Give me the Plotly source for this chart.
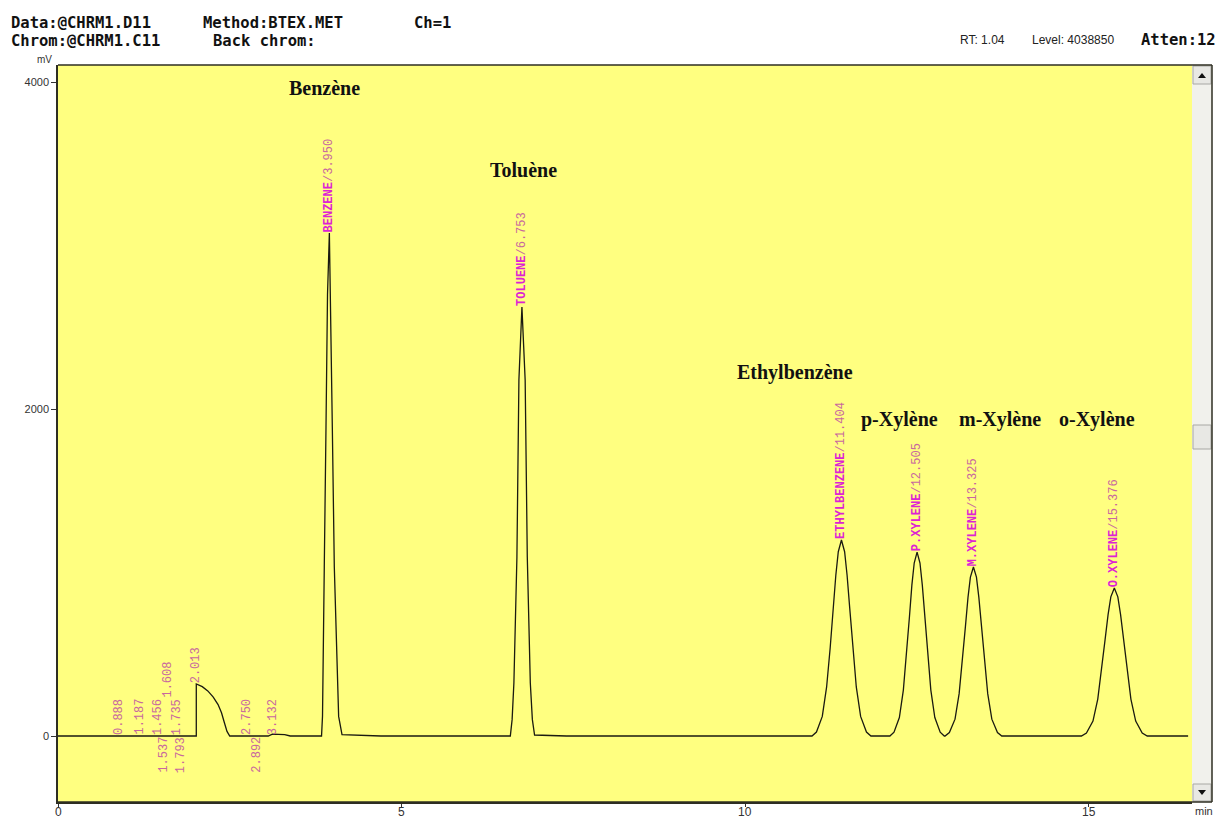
import plotly.graph_objects as go

# ---------------- data ----------------
solvent_t = [0.0, 2.013, 2.013, 2.10, 2.18, 2.26, 2.33, 2.38, 2.42, 2.46, 2.50]
solvent_mv = [0, 0, 318, 302, 276, 238, 192, 142, 84, 28, 0]
bump_t = [3.06, 3.12, 3.30, 3.38]
bump_mv = [0, 12, 9, 0]
benzene_t = [3.836, 3.850, 3.862, 3.876, 3.901, 3.923, 3.950, 3.967, 3.993, 4.022, 4.057, 4.085, 4.134, 4.40, 4.70]
benzene_mv = [0, 120, 422, 1034, 1890, 2700, 3076, 2700, 1890, 1034, 422, 120, 8, 6, 0]
toluene_t = [6.584, 6.610, 6.636, 6.680, 6.709, 6.753, 6.800, 6.831, 6.875, 6.905, 6.937, 7.20, 7.40]
toluene_mv = [0, 100, 324, 1095, 2177, 2624, 2177, 1095, 324, 100, 6, 4, 0]
ethylbenzene_t = [10.975, 11.040, 11.125, 11.188, 11.240, 11.283, 11.322, 11.358, 11.404,
                  11.450, 11.486, 11.525, 11.568, 11.620, 11.683, 11.768, 11.833]
ethylbenzene_mv = [0, 24, 120, 300, 540, 779, 983, 1127, 1199, 1127, 983, 779, 540, 300, 120, 24, 0]
p_xylene_t = [12.109, 12.169, 12.247, 12.305, 12.353, 12.394, 12.429, 12.463, 12.505,
              12.547, 12.581, 12.616, 12.657, 12.705, 12.763, 12.841, 12.901]
p_xylene_mv = [0, 23, 113, 281, 506, 731, 923, 1058, 1125, 1058, 923, 731, 506, 281, 113, 23, 0]
m_xylene_t = [12.912, 12.975, 13.057, 13.117, 13.167, 13.209, 13.246, 13.281, 13.325,
              13.369, 13.404, 13.441, 13.483, 13.533, 13.593, 13.675, 13.738]
m_xylene_mv = [0, 21, 103, 259, 465, 672, 848, 972, 1034, 972, 848, 672, 465, 259, 103, 21, 0]
o_xylene_t = [14.897, 14.970, 15.065, 15.135, 15.193, 15.241, 15.285, 15.325, 15.376,
              15.427, 15.467, 15.511, 15.559, 15.617, 15.687, 15.782, 15.855]
o_xylene_mv = [0, 18, 91, 226, 407, 588, 742, 851, 905, 851, 742, 588, 407, 226, 91, 18, 0]
end_t = [16.45]
end_mv = [0]

peak_names = ["BENZENE", "TOLUENE", "ETHYLBENZENE", "P.XYLENE", "M.XYLENE", "O.XYLENE"]
peak_rt = [3.950, 6.753, 11.404, 12.505, 13.325, 15.376]
peak_height = [3076, 2624, 1199, 1125, 1034, 905]

compound_labels = ["Benzène", "Toluène", "Ethylbenzène", "p-Xylène", "m-Xylène", "o-Xylène"]
compound_label_t = [3.872, 6.769, 10.728, 12.242, 13.712, 15.124]
compound_label_mv = [3963, 3462, 2226, 1933, 1933, 1933]

minor_rt_above = [0.888, 1.187, 1.456, 1.735, 2.750, 3.132]
minor_rt_below = [1.537, 1.793, 2.892]
minor_rt_raised = [1.608, 2.013]
minor_raised_mv = [232, 318]

x_ticks = [0, 5, 10, 15]
y_ticks = [0, 2000, 4000]

# ---------------- geometry ----------------
L, R, T, B = 58, 1192, 65, 802


def px(x):
    return (x - L) / (R - L)


def py(y):
    return (B - y) / (B - T)


time_all = (solvent_t + bump_t + benzene_t + toluene_t + ethylbenzene_t
            + p_xylene_t + m_xylene_t + o_xylene_t + end_t)
mv_all = (solvent_mv + bump_mv + benzene_mv + toluene_mv + ethylbenzene_mv
          + p_xylene_mv + m_xylene_mv + o_xylene_mv + end_mv)

fig = go.Figure()
fig.add_trace(go.Scatter(x=time_all, y=mv_all, mode="lines",
                         line=dict(color="#1a1a10", width=1.3),
                         hoverinfo="skip", showlegend=False))

ann = []
mono = "Liberation Mono"
name_col = "#dd22d4"
num_col = "#c8689e"

for n, rt, h in zip(peak_names, peak_rt, peak_height):
    ann.append(dict(x=rt, y=h, xref="x", yref="y", showarrow=False,
                    text=f"<b>{n}</b><span style='color:{num_col}'>/{rt:.3f}</span>",
                    textangle=-90, xanchor="center", yanchor="bottom",
                    font=dict(family=mono, size=12, color=name_col), borderpad=0))

for rt in minor_rt_above:
    ann.append(dict(x=rt, y=0, xref="x", yref="y", showarrow=False, text=f"{rt:.3f}",
                    textangle=-90, xanchor="center", yanchor="bottom",
                    font=dict(family=mono, size=12, color=num_col), borderpad=0))
for rt in minor_rt_below:
    ann.append(dict(x=rt, y=0, xref="x", yref="y", showarrow=False, text=f"{rt:.3f}",
                    textangle=-90, xanchor="center", yanchor="top",
                    font=dict(family=mono, size=12, color=num_col), borderpad=0))
for rt, h in zip(minor_rt_raised, minor_raised_mv):
    ann.append(dict(x=rt, y=h, xref="x", yref="y", showarrow=False, text=f"{rt:.3f}",
                    textangle=-90, xanchor="center", yanchor="bottom",
                    font=dict(family=mono, size=12, color=num_col), borderpad=0))

for lab, t, v in zip(compound_labels, compound_label_t, compound_label_mv):
    ann.append(dict(x=t, y=v, xref="x", yref="y", showarrow=False, text=f"<b>{lab}</b>",
                    xanchor="center", yanchor="middle",
                    font=dict(family="Liberation Serif", size=20, color="#111")))

# x tick labels (placed just below the axis, partly cut by the page edge as in the source)
for v in x_ticks:
    ann.append(dict(x=v, y=py(812), xref="x", yref="paper", showarrow=False, text=str(v),
                    xanchor="center", yanchor="middle",
                    font=dict(family="Liberation Sans", size=12, color="#333")))

hdr_font = dict(family="DejaVu Sans Mono", size=15.5, color="#111")
header = [("<b>Data:@CHRM1.D11</b>", 9, 23), ("<b>Method:BTEX.MET</b>", 201, 23),
          ("<b>Ch=1</b>", 412, 23), ("<b>Chrom:@CHRM1.C11</b>", 9, 41),
          ("<b>Back chrom:</b>", 211, 41), ("<b>Atten:12</b>", 1139, 40)]
for txt, x, y in header:
    ann.append(dict(x=px(x), y=py(y), xref="paper", yref="paper", showarrow=False,
                    text=txt, xanchor="left", yanchor="middle", font=hdr_font))
small_font = dict(family="Liberation Sans", size=12, color="#222")
ann.append(dict(x=px(958), y=py(40), xref="paper", yref="paper", showarrow=False,
                text="RT: 1.04", xanchor="left", yanchor="middle", font=small_font))
ann.append(dict(x=px(1030), y=py(40), xref="paper", yref="paper", showarrow=False,
                text="Level: 4038850", xanchor="left", yanchor="middle", font=small_font))
ann.append(dict(x=px(44), y=py(60), xref="paper", yref="paper", showarrow=False,
                text="mV", xanchor="center", yanchor="middle",
                font=dict(family="Liberation Sans", size=10, color="#333")))
ann.append(dict(x=px(1204), y=py(811), xref="paper", yref="paper", showarrow=False,
                text="min", xanchor="center", yanchor="middle",
                font=dict(family="Liberation Sans", size=11, color="#333")))

shapes = []
# scrollbar
shapes.append(dict(type="rect", xref="paper", yref="paper", x0=px(1192), x1=px(1212),
                   y0=py(802), y1=py(65), fillcolor="#f1f1ec", line=dict(width=0)))
for (y0, y1) in [(66, 84), (425, 449), (784, 801)]:
    shapes.append(dict(type="rect", xref="paper", yref="paper", x0=px(1193), x1=px(1211),
                       y0=py(y1), y1=py(y0), fillcolor="#e8e8e4",
                       line=dict(color="#a8a8a4", width=1)))
shapes.append(dict(type="path", xref="paper", yref="paper",
                   path=f"M {px(1198)} {py(78)} L {px(1206)} {py(78)} L {px(1202)} {py(73)} Z",
                   fillcolor="#111", line=dict(width=0)))
shapes.append(dict(type="path", xref="paper", yref="paper",
                   path=f"M {px(1198)} {py(790)} L {px(1206)} {py(790)} L {px(1202)} {py(795)} Z",
                   fillcolor="#111", line=dict(width=0)))
# frame
frame_col = "#2e2e22"
shapes.append(dict(type="line", xref="paper", yref="paper", x0=px(58), x1=px(1212),
                   y0=py(65), y1=py(65), line=dict(color=frame_col, width=1.5)))
shapes.append(dict(type="line", xref="paper", yref="paper", x0=px(1212), x1=px(1212),
                   y0=py(65), y1=py(802), line=dict(color=frame_col, width=1.5)))
shapes.append(dict(type="line", xref="paper", yref="paper", x0=px(58), x1=px(1212),
                   y0=py(802), y1=py(802), line=dict(color=frame_col, width=1.5)))

fig.update_layout(
    width=1218, height=819, autosize=False,
    margin=dict(l=L, r=1218 - R, t=T, b=819 - B, pad=0, autoexpand=False),
    paper_bgcolor="white", plot_bgcolor="#ffff80",
    showlegend=False, annotations=ann, shapes=shapes,
    xaxis=dict(range=[0, (R - L) / 68.7], tickvals=x_ticks, showticklabels=False,
               automargin=False,
               showgrid=False, zeroline=False, showline=True, linecolor=frame_col, linewidth=1.5,
               ticks="outside", ticklen=3, tickcolor="#333"),
    yaxis=dict(range=[-(B - 736) / 0.1635, (736 - T) / 0.1635], tickvals=y_ticks,
               ticktext=[str(v) for v in y_ticks], automargin=False,
               showgrid=False, zeroline=False, showline=True, linecolor=frame_col, linewidth=1.5,
               ticks="outside", ticklen=5, tickcolor="#333",
               tickfont=dict(family="Liberation Sans", size=11, color="#333")),
)

fig.write_html("out.html", config={"displayModeBar": False},
               post_script="document.body.style.margin='0px';document.body.style.overflow='hidden';")
